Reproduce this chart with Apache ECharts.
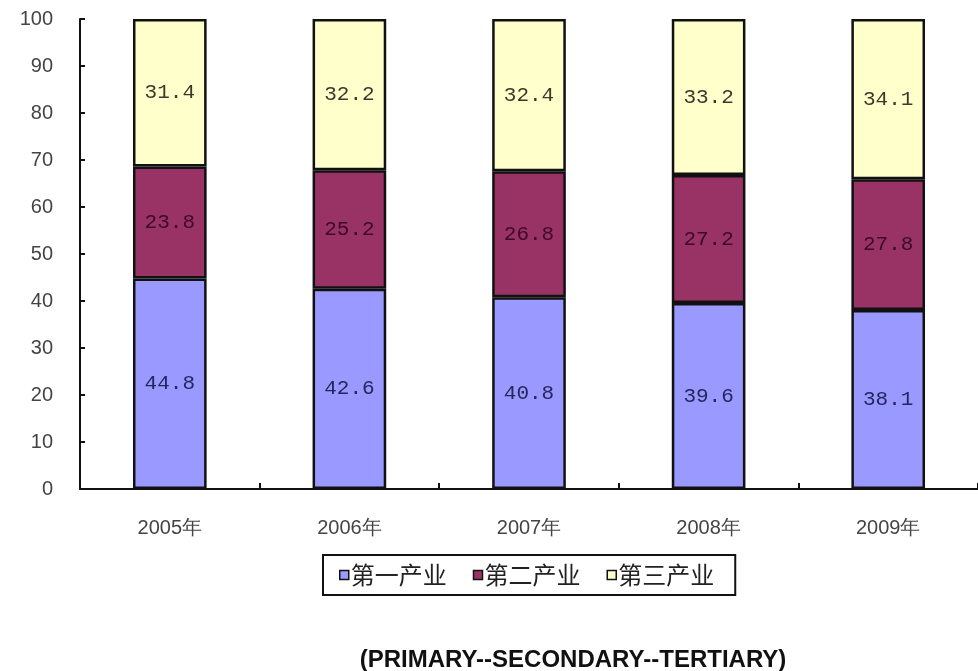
<!DOCTYPE html>
<html>
<head>
<meta charset="utf-8">
<script src="https://cdn.jsdelivr.net/npm/echarts@6/dist/echarts.min.js"></script>
<style>
  html, body { margin: 0; padding: 0; background: #fff; }
  #chart { width: 978px; height: 671px; }
</style>
</head>
<body>
<div id="chart"></div>
<script>
// Industry structure shares (%) by year
const years = ['2005年', '2006年', '2007年', '2008年', '2009年'];
const primary = [44.8, 42.6, 40.8, 39.6, 38.1];
const secondary = [23.8, 25.2, 26.8, 27.2, 27.8];
const tertiary = [31.4, 32.2, 32.4, 33.2, 34.1];
const seriesNames = ['第一产业', '第二产业', '第三产业'];
const yTicks = { min: 0, max: 100, interval: 10 };

const chart = echarts.init(document.getElementById('chart'));

function stackSeries(name, data, fill, labelColor) {
  return {
    name: name,
    type: 'bar',
    stack: 'total',
    data: data,
    barWidth: '41%',
    itemStyle: { color: fill, borderColor: '#111', borderWidth: 2.5 },
    label: {
      show: true,
      position: 'inside',
      formatter: p => p.value.toFixed(1),
      fontFamily: 'Liberation Mono, DejaVu Sans Mono, monospace',
      fontSize: 21,
      color: labelColor
    },
    emphasis: { disabled: true }
  };
}

chart.setOption({
  animation: false,
  backgroundColor: '#fff',
  grid: { left: 80, top: 19, right: -7, bottom: 182, containLabel: false },
  title: {
    text: '(PRIMARY--SECONDARY--TERTIARY)',
    left: 568,
    top: 643,
    textAlign: 'center',
    textStyle: {
      fontFamily: 'Liberation Sans, Arial, sans-serif',
      fontWeight: 'bold',
      fontSize: 24,
      color: '#111'
    }
  },
  legend: {
    data: seriesNames,
    left: 323,
    top: 555,
    orient: 'horizontal',
    icon: 'rect',
    itemWidth: 9,
    itemHeight: 9,
    itemGap: 26,
    padding: [8, 21, 8, 16],
    borderColor: '#111',
    borderWidth: 2,
    itemStyle: { borderColor: '#111', borderWidth: 1.5 },
    textStyle: {
      fontFamily: 'Noto Sans CJK SC',
      fontSize: 24,
      color: '#222',
      padding: [0, 0, 0, -3]
    }
  },
  xAxis: {
    type: 'category',
    data: years,
    axisLine: { lineStyle: { color: '#111', width: 2 } },
    axisTick: { show: true, inside: true, length: 6, alignWithLabel: false, lineStyle: { color: '#111', width: 2 } },
    axisLabel: {
      margin: 29,
      fontFamily: 'Liberation Sans, Arial, sans-serif',
      fontSize: 20,
      color: '#444'
    }
  },
  yAxis: {
    type: 'value',
    min: yTicks.min,
    max: yTicks.max,
    interval: yTicks.interval,
    axisLine: { show: true, lineStyle: { color: '#111', width: 2 } },
    axisTick: { show: true, inside: true, length: 5, lineStyle: { color: '#111', width: 2 } },
    splitLine: { show: false },
    axisLabel: {
      margin: 27,
      fontFamily: 'Liberation Sans, Arial, sans-serif',
      fontSize: 20,
      color: '#444'
    }
  },
  series: [
    stackSeries(seriesNames[0], primary, '#9999FF', '#26265e'),
    stackSeries(seriesNames[1], secondary, '#993366', '#3d0a26'),
    stackSeries(seriesNames[2], tertiary, '#FFFFCC', '#3a3a2c')
  ]
});
</script>
</body>
</html>
